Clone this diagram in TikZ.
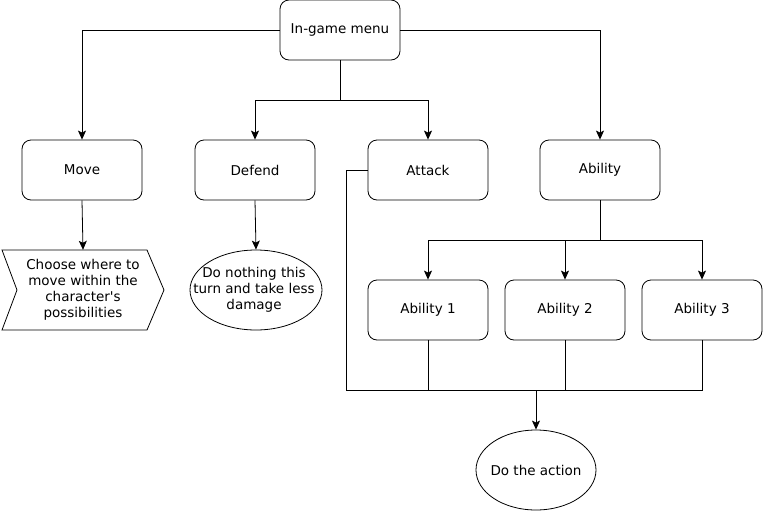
\documentclass[tikz,border=0pt]{standalone}
\usepackage{fontspec}
\setmainfont{DejaVu Sans}[Ligatures=TeXOff]
\usetikzlibrary{arrows.meta,shapes.geometric}
\begin{document}
\begin{tikzpicture}[x=1pt,y=-1pt,
  every node/.style={font=\fontsize{13.5pt}{16pt}\selectfont},
  box/.style={draw, line width=0.8pt, rounded corners=9pt, minimum width=120pt, minimum height=60pt, inner sep=0pt},
  oval/.style={draw, line width=0.8pt, ellipse, inner sep=0pt},
  line/.style={line width=0.8pt},
  arr/.style={line width=0.8pt, -{Stealth[length=9pt,width=8pt,inset=2pt]}}]
\useasboundingbox (0,0) rectangle (764,512);
% boxes
\node[box] (menu) at (340,30) {In-game menu};
\node[box] (move) at (82,170) {Move};
\node[box] (defend) at (255,170) {Defend};
\node[box] (attack) at (428,170) {Attack};
\node[box] (ability) at (600,170) {Ability};
\node[box] (ab1) at (428,310) {Ability 1};
\node[box] (ab2) at (565,310) {Ability 2};
\node[box] (ab3) at (702,310) {Ability 3};
% chevron
\draw[line] (2,250) -- (147,250) -- (164,290) -- (147,330) -- (2,330) -- (17,290) -- cycle;
\node[minimum width=162pt, minimum height=80pt, inner sep=0pt, align=center] (choose) at (83,290)
  {Choose where to\\move within the\\character's\\possibilities};
% ellipses
\node[oval, minimum width=132pt, minimum height=80pt] (nothing) at (256,290) {};
\node[align=center] at (254,290) {Do nothing this\\turn and take less\\damage};
\node[oval, minimum width=120pt, minimum height=80pt] (action) at (536,470) {};
\node at (536,470) {Do the action};
% connectors
\coordinate (split) at (340,100);
\coordinate (absplit) at (600,240);
\coordinate (join) at (536,390);
\draw[arr] (menu.west) -| (move.north);
\draw[arr] (menu.east) -| (ability.north);
\draw[line] (menu.south) -- (split);
\draw[arr] (split) -| (defend.north);
\draw[arr] (split) -| (attack.north);
\draw[arr] (move.south) -- (choose.north);
\draw[arr] (defend.south) -- (nothing.north);
\draw[line] (ability.south) -- (absplit);
\draw[arr] (absplit) -| (ab1.north);
\draw[arr] (absplit) -| (ab2.north);
\draw[arr] (absplit) -| (ab3.north);
\draw[line] (attack.west) -- ++(-21,0) |- (join);
\draw[line] (ab1.south) |- (join);
\draw[line] (ab2.south) |- (join);
\draw[line] (ab3.south) |- (join);
\draw[arr] (join) -- (action.north);
\end{tikzpicture}
\end{document}
